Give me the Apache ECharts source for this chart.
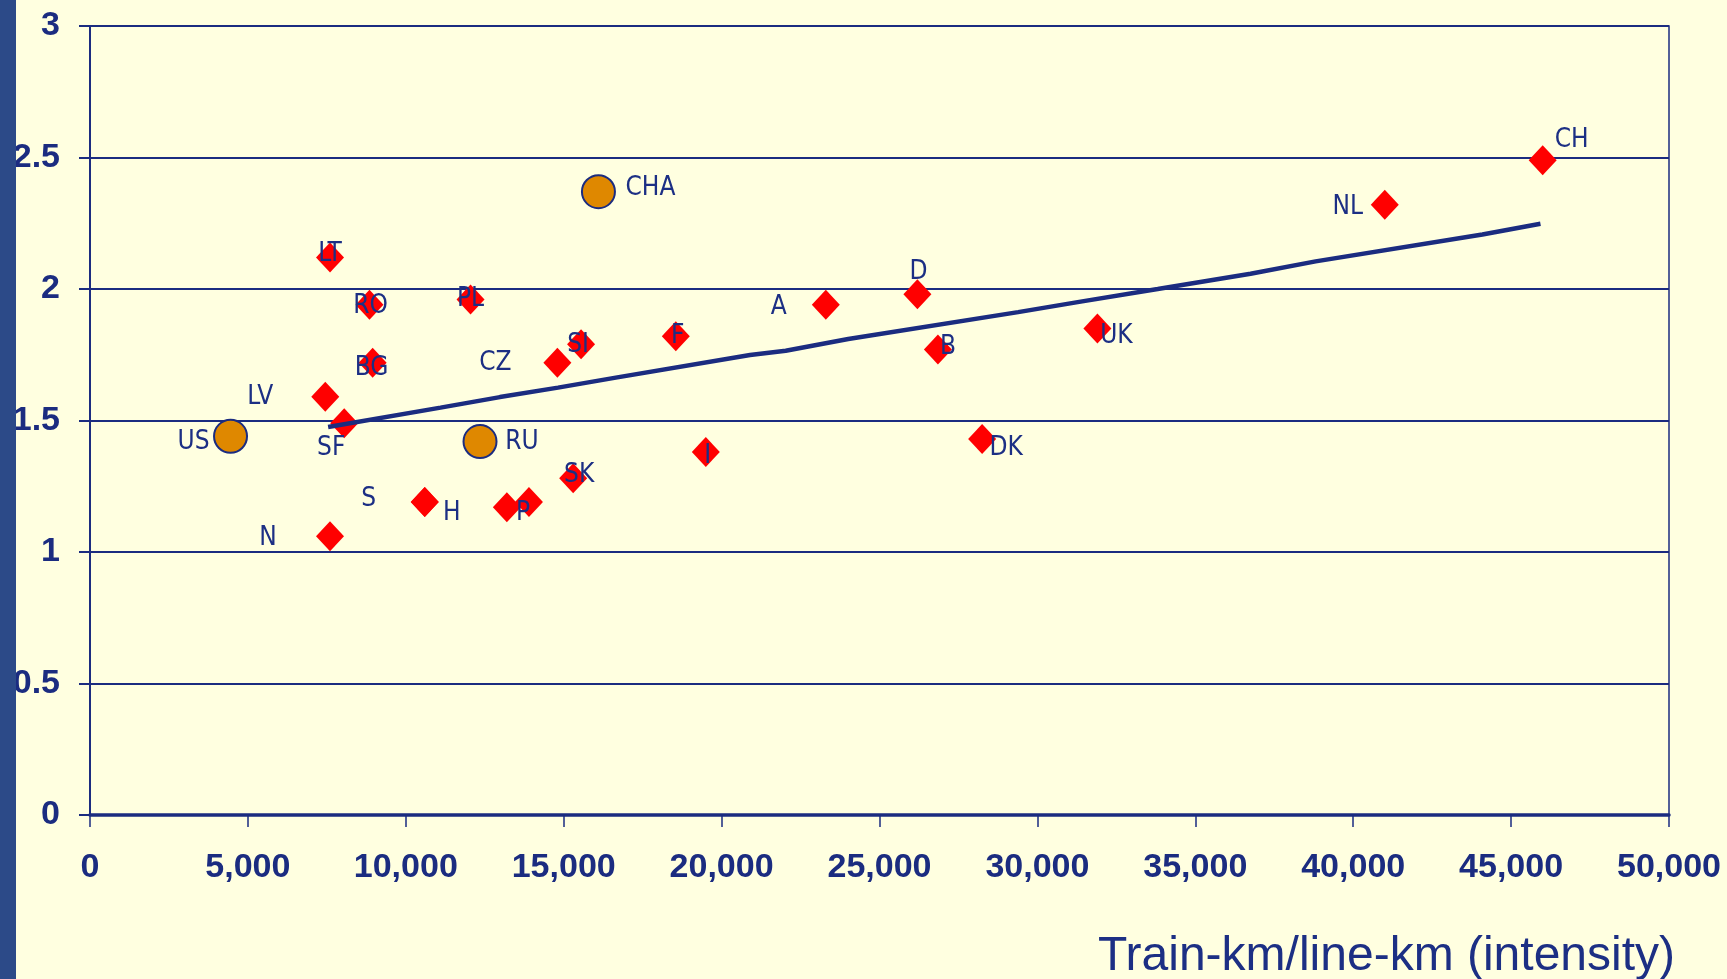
<!DOCTYPE html>
<html>
<head>
<meta charset="utf-8">
<title>Train-km/line-km (intensity)</title>
<script src="https://cdn.jsdelivr.net/npm/echarts@6/dist/echarts.min.js"></script>
<style>
  html, body { margin: 0; padding: 0; background: #FFFFE0; }
  #chart { width: 1727px; height: 979px; }
  .strip { position: absolute; left: 0; top: 0; width: 16px; height: 979px; background: #2C4A88; z-index: 5; }
</style>
</head>
<body>
<div class="strip"></div>
<div id="chart"></div>
<script>
// red diamonds
const railNames = ['CH', 'NL', 'UK', 'DK', 'B', 'D', 'A', 'I', 'F', 'SI', 'CZ', 'SK', 'P', '', 'H', 'S', 'PL', 'RO', 'BG', 'LT', 'LV', 'SF', 'N'];
const railIntensity = [46000, 41000, 31900, 28250, 26850, 26200, 23300, 19500, 18550, 15550, 14800, 15300, 13900, 13200, 10600, 10600, 12050, 8850, 8950, 7600, 7450, 8050, 7600];
const railValue = [2.49, 2.32, 1.85, 1.43, 1.77, 1.98, 1.94, 1.38, 1.82, 1.79, 1.72, 1.28, 1.19, 1.17, 1.19, 1.19, 1.96, 1.94, 1.72, 2.12, 1.59, 1.49, 1.06];

// orange circles
const otherNames = ['CHA', 'US', 'RU'];
const otherIntensity = [16100, 4450, 12350];
const otherValue = [2.37, 1.44, 1.42];

// trend line
const trendIntensity = [7540, 11100, 12980, 14820, 16650, 20900, 22030, 24010, 29390, 31370, 33810, 36750, 38810, 44090, 45930];
const trendValue = [1.475, 1.549, 1.589, 1.625, 1.663, 1.749, 1.765, 1.810, 1.912, 1.952, 2.000, 2.058, 2.105, 2.207, 2.248];

const xTicks = [0, 5000, 10000, 15000, 20000, 25000, 30000, 35000, 40000, 45000, 50000];

// label offsets (px from marker centre)
const labelShift = {
  CH: [29, -20], NL: [-37, 2], UK: [19, 8], DK: [24, 9], B: [10, -2], D: [1, -22],
  A: [-47, 2], I: [2, 4], F: [2, 0], SI: [-3, 1], CZ: [-62, 1], SK: [6, -3],
  P: [-6, 11], H: [27, 11], S: [-56, -3], PL: [0, 0], RO: [1, 1], BG: [-1, 6],
  LT: [0, -3], LV: [-65, 0], SF: [-13, 25], N: [-62, 2],
  CHA: [52, -3], US: [-37, 6], RU: [42, 1]
};

const navy = '#1B2C80';
const labelFont = {
  color: '#1C2F84',
  fontFamily: '"DejaVu Sans Condensed", "DejaVu Sans", sans-serif',
  fontSize: 26,
  textBorderWidth: 0,
  textShadowBlur: 0
};

function withLabels(names, xs, ys) {
  return names.map((n, i) => {
    const s = labelShift[n] || [0, 0];
    return {
      name: n,
      value: [xs[i], ys[i]],
      label: {
        show: n !== '',
        position: 'inside',
        align: 'center',
        verticalAlign: 'middle',
        offset: s,
        formatter: n,
        ...labelFont
      }
    };
  });
}

const chart = echarts.init(document.getElementById('chart'));

chart.setOption({
  backgroundColor: '#FFFFE0',
  animation: false,
  grid: {
    left: 90, right: 58, top: 26, bottom: 164,
    show: true, borderColor: navy, borderWidth: 1.5
  },
  xAxis: {
    type: 'value',
    min: 0, max: 50000, interval: 5000,
    axisLine: { show: true, onZero: false, lineStyle: { color: navy, width: 3.5 } },
    axisTick: { show: true, inside: false, length: 12, lineStyle: { color: navy, width: 1.5 } },
    axisLabel: {
      margin: 36,
      color: navy,
      fontFamily: '"Liberation Sans", Arial, sans-serif',
      fontWeight: 'bold',
      fontSize: 34,
      formatter: v => xTicks.includes(v) ? v.toLocaleString('en-US') : ''
    },
    splitLine: { show: false }
  },
  yAxis: {
    type: 'value',
    min: 0, max: 3, interval: 0.5,
    axisLine: { show: true, lineStyle: { color: navy, width: 2 } },
    axisTick: { show: true, inside: false, length: 11, lineStyle: { color: navy, width: 2 } },
    axisLabel: {
      margin: 30,
      color: navy,
      fontFamily: '"Liberation Sans", Arial, sans-serif',
      fontWeight: 'bold',
      fontSize: 34
    },
    splitLine: { show: true, lineStyle: { color: navy, width: 2 } }
  },
  graphic: [{
    type: 'text',
    right: 52,
    top: 933,
    style: {
      text: 'Train-km/line-km (intensity)',
      fill: '#1C2F84',
      font: '48px "Liberation Sans", Arial, sans-serif'
    }
  }],
  series: [
    {
      type: 'scatter',
      symbol: 'diamond',
      symbolSize: [28, 30],
      itemStyle: { color: '#FF0000', opacity: 1 },
      data: withLabels(railNames, railIntensity, railValue),
      z: 3
    },
    {
      type: 'scatter',
      symbol: 'circle',
      symbolSize: 33,
      itemStyle: { color: '#DF8800', borderColor: navy, borderWidth: 2, opacity: 1 },
      data: withLabels(otherNames, otherIntensity, otherValue),
      z: 3
    },
    {
      type: 'line',
      showSymbol: false,
      lineStyle: { color: navy, width: 4.5 },
      data: trendIntensity.map((x, i) => [x, trendValue[i]]),
      z: 4
    }
  ]
});

window.addEventListener('resize', () => chart.resize());
</script>
</body>
</html>
